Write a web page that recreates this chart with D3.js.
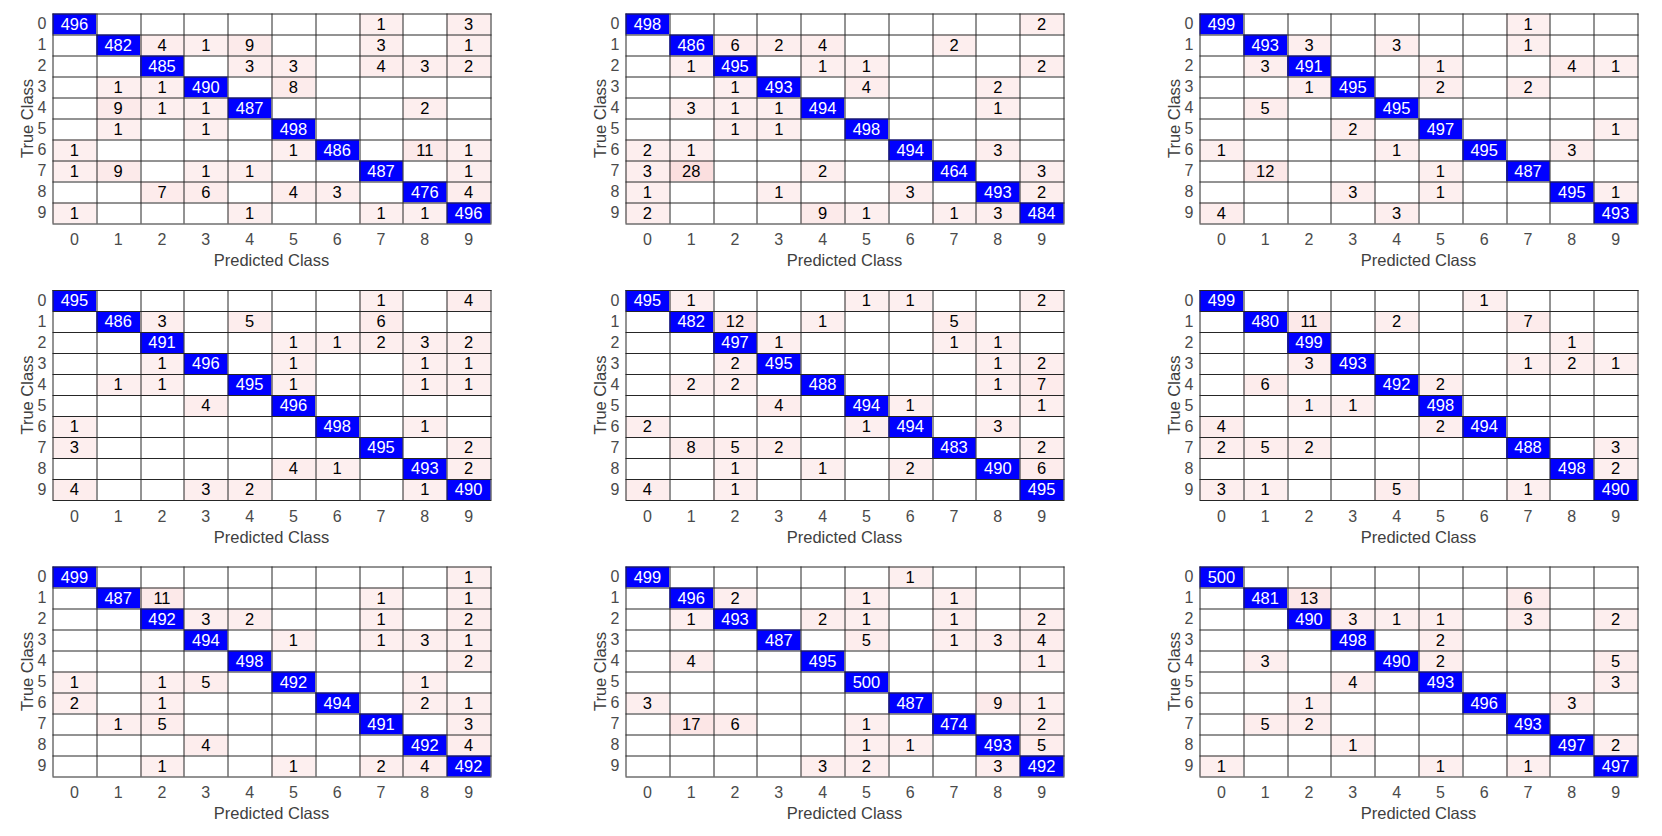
<!DOCTYPE html>
<html><head><meta charset="utf-8">
<script src="https://cdn.jsdelivr.net/npm/d3@7"></script>
<style>body{margin:0;background:#fff;overflow:hidden}</style>
</head><body>
<svg id="c" width="1662" height="836"></svg>
<script>
const classes = ["0","1","2","3","4","5","6","7","8","9"];
const xTitle = "Predicted Class";
const yTitle = "True Class";

const cm1 = [
[496,0,0,0,0,0,0,1,0,3],
[0,482,4,1,9,0,0,3,0,1],
[0,0,485,0,3,3,0,4,3,2],
[0,1,1,490,0,8,0,0,0,0],
[0,9,1,1,487,0,0,0,2,0],
[0,1,0,1,0,498,0,0,0,0],
[1,0,0,0,0,1,486,0,11,1],
[1,9,0,1,1,0,0,487,0,1],
[0,0,7,6,0,4,3,0,476,4],
[1,0,0,0,1,0,0,1,1,496]];
const cm2 = [
[498,0,0,0,0,0,0,0,0,2],
[0,486,6,2,4,0,0,2,0,0],
[0,1,495,0,1,1,0,0,0,2],
[0,0,1,493,0,4,0,0,2,0],
[0,3,1,1,494,0,0,0,1,0],
[0,0,1,1,0,498,0,0,0,0],
[2,1,0,0,0,0,494,0,3,0],
[3,28,0,0,2,0,0,464,0,3],
[1,0,0,1,0,0,3,0,493,2],
[2,0,0,0,9,1,0,1,3,484]];
const cm3 = [
[499,0,0,0,0,0,0,1,0,0],
[0,493,3,0,3,0,0,1,0,0],
[0,3,491,0,0,1,0,0,4,1],
[0,0,1,495,0,2,0,2,0,0],
[0,5,0,0,495,0,0,0,0,0],
[0,0,0,2,0,497,0,0,0,1],
[1,0,0,0,1,0,495,0,3,0],
[0,12,0,0,0,1,0,487,0,0],
[0,0,0,3,0,1,0,0,495,1],
[4,0,0,0,3,0,0,0,0,493]];
const cm4 = [
[495,0,0,0,0,0,0,1,0,4],
[0,486,3,0,5,0,0,6,0,0],
[0,0,491,0,0,1,1,2,3,2],
[0,0,1,496,0,1,0,0,1,1],
[0,1,1,0,495,1,0,0,1,1],
[0,0,0,4,0,496,0,0,0,0],
[1,0,0,0,0,0,498,0,1,0],
[3,0,0,0,0,0,0,495,0,2],
[0,0,0,0,0,4,1,0,493,2],
[4,0,0,3,2,0,0,0,1,490]];
const cm5 = [
[495,1,0,0,0,1,1,0,0,2],
[0,482,12,0,1,0,0,5,0,0],
[0,0,497,1,0,0,0,1,1,0],
[0,0,2,495,0,0,0,0,1,2],
[0,2,2,0,488,0,0,0,1,7],
[0,0,0,4,0,494,1,0,0,1],
[2,0,0,0,0,1,494,0,3,0],
[0,8,5,2,0,0,0,483,0,2],
[0,0,1,0,1,0,2,0,490,6],
[4,0,1,0,0,0,0,0,0,495]];
const cm6 = [
[499,0,0,0,0,0,1,0,0,0],
[0,480,11,0,2,0,0,7,0,0],
[0,0,499,0,0,0,0,0,1,0],
[0,0,3,493,0,0,0,1,2,1],
[0,6,0,0,492,2,0,0,0,0],
[0,0,1,1,0,498,0,0,0,0],
[4,0,0,0,0,2,494,0,0,0],
[2,5,2,0,0,0,0,488,0,3],
[0,0,0,0,0,0,0,0,498,2],
[3,1,0,0,5,0,0,1,0,490]];
const cm7 = [
[499,0,0,0,0,0,0,0,0,1],
[0,487,11,0,0,0,0,1,0,1],
[0,0,492,3,2,0,0,1,0,2],
[0,0,0,494,0,1,0,1,3,1],
[0,0,0,0,498,0,0,0,0,2],
[1,0,1,5,0,492,0,0,1,0],
[2,0,1,0,0,0,494,0,2,1],
[0,1,5,0,0,0,0,491,0,3],
[0,0,0,4,0,0,0,0,492,4],
[0,0,1,0,0,1,0,2,4,492]];
const cm8 = [
[499,0,0,0,0,0,1,0,0,0],
[0,496,2,0,0,1,0,1,0,0],
[0,1,493,0,2,1,0,1,0,2],
[0,0,0,487,0,5,0,1,3,4],
[0,4,0,0,495,0,0,0,0,1],
[0,0,0,0,0,500,0,0,0,0],
[3,0,0,0,0,0,487,0,9,1],
[0,17,6,0,0,1,0,474,0,2],
[0,0,0,0,0,1,1,0,493,5],
[0,0,0,0,3,2,0,0,3,492]];
const cm9 = [
[500,0,0,0,0,0,0,0,0,0],
[0,481,13,0,0,0,0,6,0,0],
[0,0,490,3,1,1,0,3,0,2],
[0,0,0,498,0,2,0,0,0,0],
[0,3,0,0,490,2,0,0,0,5],
[0,0,0,4,0,493,0,0,0,3],
[0,0,1,0,0,0,496,0,3,0],
[0,5,2,0,0,0,0,493,0,0],
[0,0,0,1,0,0,0,0,497,2],
[1,0,0,0,0,1,0,1,0,497]];

const matrices = [cm1, cm2, cm3, cm4, cm5, cm6, cm7, cm8, cm9];

const lefts = [52.5, 625.5, 1199.5];
const tops = [13.5, 290, 566.5];
const pw = 438, ph = 210;
const FONT = "'Liberation Sans', Arial, Helvetica, sans-serif";

const svg = d3.select("#c");
const pink = d3.scaleLinear().domain([1, 28]).range(["#fdefef", "#fbdfdf"]).clamp(true);

matrices.forEach((m, i) => {
  const g = svg.append("g")
    .attr("transform", `translate(${lefts[i % 3]},${tops[Math.floor(i / 3)]})`);
  const x = d3.scaleBand().domain(classes).range([0, pw]);
  const y = d3.scaleBand().domain(classes).range([0, ph]);

  const cells = [];
  m.forEach((row, r) => row.forEach((v, c) => cells.push({ r, c, v })));

  g.selectAll("rect.cell").data(cells).join("rect")
    .attr("class", "cell")
    .attr("x", d => x(classes[d.c]))
    .attr("y", d => y(classes[d.r]))
    .attr("width", x.bandwidth())
    .attr("height", y.bandwidth())
    .attr("fill", d => d.v === 0 ? "#ffffff" : (d.r === d.c ? "#0000ff" : pink(d.v)));

  // grid lines
  const xPos = classes.map(c => x(c)).concat([pw]);
  const yPos = classes.map(c => y(c)).concat([ph]);
  g.selectAll("line.v").data(xPos).join("line")
    .attr("class", "v")
    .attr("x1", d => Math.round(d) + 0.5).attr("x2", d => Math.round(d) + 0.5)
    .attr("y1", 0).attr("y2", ph)
    .attr("stroke", "#262626").attr("stroke-width", 1);
  g.selectAll("line.h").data(yPos).join("line")
    .attr("class", "h")
    .attr("y1", d => Math.round(d) + 0.5).attr("y2", d => Math.round(d) + 0.5)
    .attr("x1", 0).attr("x2", Math.round(pw) + 1)
    .attr("stroke", "#262626").attr("stroke-width", 1);

  // cell values
  g.selectAll("text.val").data(cells.filter(d => d.v !== 0)).join("text")
    .attr("class", "val")
    .attr("x", d => x(classes[d.c]) + x.bandwidth() / 2)
    .attr("y", d => y(classes[d.r]) + y.bandwidth() / 2)
    .attr("dy", "0.36em")
    .attr("text-anchor", "middle")
    .attr("font-family", FONT)
    .attr("font-size", "16.5px")
    .attr("fill", d => d.r === d.c ? "#ffffff" : "#000000")
    .text(d => d.v);

  // axes
  const ax = g.append("g").attr("transform", `translate(0,${ph})`)
    .call(d3.axisBottom(x).tickSize(0).tickPadding(10.5));
  const ay = g.append("g")
    .call(d3.axisLeft(y).tickSize(0).tickPadding(6));
  [ax, ay].forEach(a => {
    a.attr("font-size", null).attr("font-family", null);
    a.select(".domain").remove();
    a.selectAll("text")
      .style("font-family", FONT)
      .style("font-size", "16px")
      .attr("fill", "#4a4a4a");
  });

  g.append("text")
    .attr("x", pw / 2).attr("y", ph + 42.5)
    .attr("text-anchor", "middle")
    .style("font-family", FONT).style("font-size", "16.5px").attr("fill", "#404040")
    .text(xTitle);
  g.append("text")
    .attr("transform", `translate(-20,${ph / 2}) rotate(-90)`)
    .attr("text-anchor", "middle")
    .style("font-family", FONT).style("font-size", "16.5px").attr("fill", "#404040")
    .text(yTitle);
});
</script>
</body></html>
